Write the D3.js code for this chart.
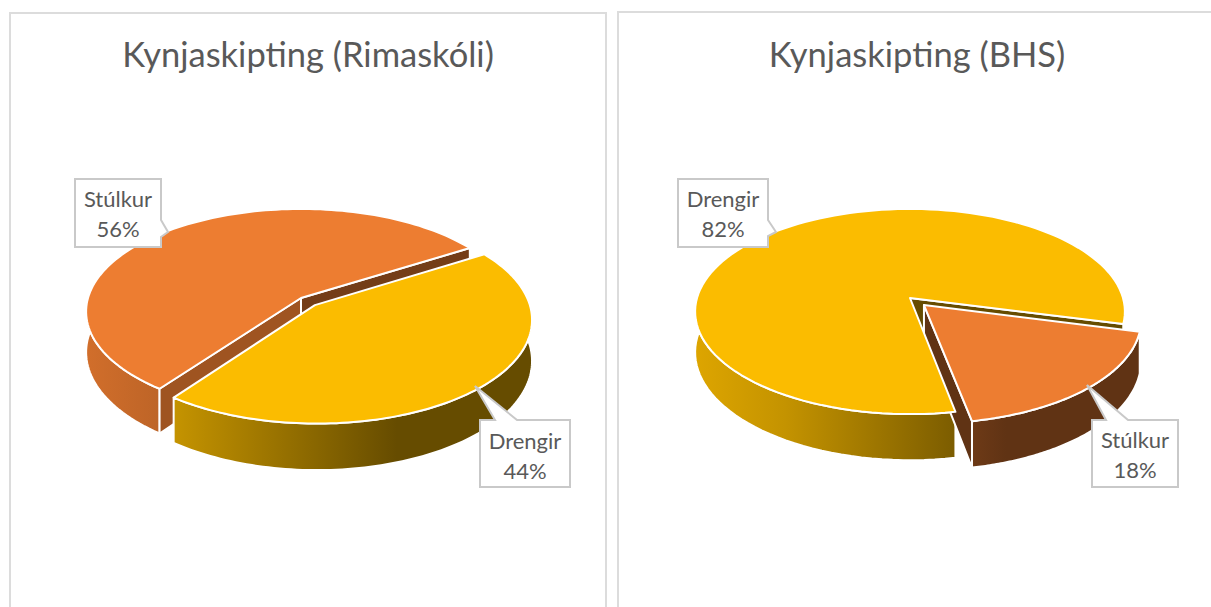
<!DOCTYPE html>
<html>
<head>
<meta charset="utf-8">
<style>
  html, body { margin: 0; padding: 0; background: #fff; }
  svg { display: block; }
</style>
<script src="https://cdn.jsdelivr.net/npm/d3@7"></script>
</head>
<body>
<div id="chart"></div>
<script>
// Values
const rimaCategories = ["Drengir", "Stúlkur"];
const rimaValues = [44, 56];
const bhsCategories = ["Stúlkur", "Drengir"];
const bhsValues = [18, 82];

const sliceColors = { "Drengir": "#fbbc00", "Stúlkur": "#ed7d31" };

const width = 1211, height = 607;

// Pie projection, fitted to the reference
const radius = 213, squash = 100.8, perspective = 0.132, depth = 40, explosion = 0.095;
const rad = d => d * Math.PI / 180;

const svg = d3.select("#chart")
  .append("svg")
    .attr("width", width)
    .attr("height", height);

const defs = svg.append("defs");

// Light falls from the left on the outer wall
const wallShade = d3.scaleLinear()
  .domain([-214, -125, 0, 96])
  .range([0.88, 0.78, 0.57, 0.405]);

const darker = (color, k) => {
  const c = d3.rgb(color);
  return d3.rgb(c.r * k, c.g * k, c.b * k).formatHex();
};

const line = d3.line();

function drawPie(g, o) {
  const pie = d3.pie().sort(null)
    .startAngle(rad(o.start))
    .endAngle(rad(o.start + 360));

  const slices = pie(o.values).map((d, i) => ({ ...d, name: o.categories[i] }));

  const project = (offset, angle, r, drop) => {
    const X = r * Math.sin(angle) + offset[0];
    const Y = -r * Math.cos(angle) + offset[1];
    const f = 1 / (1 - perspective * Y);
    return [o.cx + radius * X * f, o.cy + squash * Y * f + drop * f];
  };

  const ordered = slices.slice().sort((a, b) => (a.name === o.exploded) - (b.name === o.exploded));

  ordered.forEach(s => {
    const color = sliceColors[s.name];
    const mid = (s.startAngle + s.endAngle) / 2;
    const ex = s.name === o.exploded ? explosion : 0;
    s.offset = [ex * Math.sin(mid), -ex * Math.cos(mid)];
    s.steps = d3.range(0, 121).map(i => s.startAngle + (s.endAngle - s.startAngle) * i / 120);

    const rim = s.steps.map(a => project(s.offset, a, 1, 0));
    const rimLow = s.steps.map(a => project(s.offset, a, 1, depth));

    // gradient of the outer wall
    const gradId = `${o.id}-${s.name === "Drengir" ? "d" : "s"}`;
    const grad = defs.append("linearGradient")
      .attr("id", gradId)
      .attr("gradientUnits", "userSpaceOnUse")
      .attr("x1", o.cx - 214)
      .attr("x2", o.cx + 96)
      .attr("y1", 0).attr("y2", 0);
    wallShade.domain().forEach(v => {
      grad.append("stop")
        .attr("offset", (v + 214) / 310)
        .attr("stop-color", darker(color, wallShade(v)));
    });

    g.append("path")
      .attr("d", line(rim.concat(rimLow.slice().reverse())) + "Z")
      .attr("fill", `url(#${gradId})`)
      .attr("stroke", "#fff")
      .attr("stroke-width", 2)
      .attr("stroke-linejoin", "round");

    // cut faces, only those turned toward the viewer
    [[s.startAngle, 1], [s.endAngle, -1]].forEach(([angle, side]) => {
      const quad = [
        project(s.offset, angle, 0, 0),
        project(s.offset, angle, 1, 0),
        project(s.offset, angle, 1, depth),
        project(s.offset, angle, 0, depth)
      ];
      if (d3.polygonArea(quad) * side <= 0) return;
      g.append("path")
        .attr("d", line(quad) + "Z")
        .attr("fill", darker(color, o.cutShade[side > 0 ? 0 : 1]))
        .attr("stroke", "#fff")
        .attr("stroke-width", 2)
        .attr("stroke-linejoin", "round");
    });
  });

  // top faces last so the walls stay underneath
  ordered.forEach(s => {
    const top = [project(s.offset, 0, 0, 0)].concat(s.steps.map(a => project(s.offset, a, 1, 0)));
    g.append("path")
      .attr("d", line(top) + "Z")
      .attr("fill", sliceColors[s.name])
      .attr("stroke", "#fff")
      .attr("stroke-width", 2)
      .attr("stroke-linejoin", "round");
  });
}

function drawCallout(g, c) {
  g.append("path")
    .attr("d", line(c.shape) + "Z")
    .attr("fill", "#fff")
    .attr("stroke", "#c9c9c9")
    .attr("stroke-width", 2);

  [c.name, c.pct].forEach((t, i) => {
    g.append("text")
      .attr("x", c.tx)
      .attr("y", c.ty + i * 30)
      .attr("text-anchor", "middle")
      .attr("font-family", "Lato, sans-serif")
      .attr("font-size", "22px")
      .attr("fill", "#595959")
      .text(t);
  });
}

// Panels
svg.append("path")
  .attr("d", `M10,607V13H606V607`)
  .attr("fill", "none")
  .attr("stroke", "#dcdcdc")
  .attr("stroke-width", 2);
svg.append("path")
  .attr("d", `M618,607V12H1211`)
  .attr("fill", "none")
  .attr("stroke", "#dcdcdc")
  .attr("stroke-width", 2);

// Titles
[["Kynjaskipting (Rimaskóli)", 308], ["Kynjaskipting (BHS)", 917]].forEach(([t, x]) => {
  svg.append("text")
    .attr("x", x)
    .attr("y", 67)
    .attr("text-anchor", "middle")
    .attr("font-family", "Lato, sans-serif")
    .attr("font-size", "34.5px")
    .attr("fill", "#595959")
    .text(t);
});

const left = svg.append("g");
drawPie(left, {
  id: "rima", cx: 301, cy: 298, start: 58,
  categories: rimaCategories, values: rimaValues,
  exploded: "Drengir", cutShade: [0.67, 0.49]
});

const right = svg.append("g");
drawPie(right, {
  id: "bhs", cx: 910, cy: 298, start: 104.5,
  categories: bhsCategories, values: bhsValues,
  exploded: "Stúlkur", cutShade: [0.405, 0.405]
});

// Callouts
drawCallout(left, {
  name: rimaCategories[1], pct: rimaValues[1] + "%", tx: 118, ty: 207,
  shape: [[75, 179], [161, 179], [161, 220], [168, 232], [161, 237], [161, 247], [75, 247]]
});
drawCallout(left, {
  name: rimaCategories[0], pct: rimaValues[0] + "%", tx: 525, ty: 449,
  shape: [[480, 420], [495, 420], [475, 386], [517, 420], [570, 420], [570, 487], [480, 487]]
});
drawCallout(right, {
  name: bhsCategories[1], pct: bhsValues[1] + "%", tx: 723, ty: 207,
  shape: [[678, 179], [768, 179], [768, 220], [776, 232], [768, 236], [768, 247], [678, 247]]
});
drawCallout(right, {
  name: bhsCategories[0], pct: bhsValues[0] + "%", tx: 1135, ty: 448,
  shape: [[1092, 420], [1106, 420], [1087, 385], [1128, 420], [1178, 420], [1178, 487], [1092, 487]]
});
</script>
</body>
</html>
